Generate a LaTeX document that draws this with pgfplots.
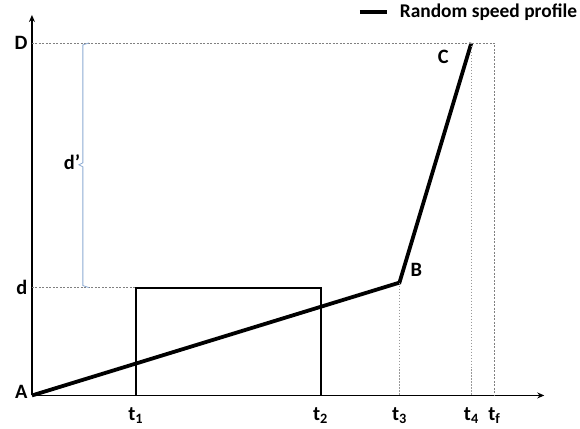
\documentclass[border=0pt]{standalone}
\usepackage{fontspec}
\setmainfont{Carlito}
\usepackage{pgfplots}
\pgfplotsset{compat=1.18}
\usetikzlibrary{arrows.meta}
\definecolor{brk}{RGB}{140,170,210}
\begin{document}
\begin{tikzpicture}
\begin{axis}[
  x=1bp, y=1bp,
  xmin=0, xmax=513, ymin=0, ymax=381,
  axis lines=left,
  axis line style={line width=1.6bp, -{Stealth[length=7bp,width=6bp]}},
  clip=false,
  xtick={104,289,368,440,463},
  xticklabels={t\textsubscript{1},t\textsubscript{2},t\textsubscript{3},t\textsubscript{4},t\textsubscript{f}},
  ytick={4,108,353},
  yticklabels={A,d,D},
  major tick length=0pt,
  tick label style={font=\fontsize{20.5}{22}\selectfont\bfseries},
  xticklabel style={yshift=-9bp},
  yticklabel style={xshift=-1bp},
  legend style={at={(axis cs:549,395)}, anchor=north east, draw=none, fill=none,
    font=\fontsize{19.5}{22}\selectfont\bfseries, inner sep=1bp},
  legend cell align=left,
  legend image code/.code={\draw[#1] (0bp,0bp) -- (27bp,0bp); \path (36bp,0bp);},
]
\addplot[black, line width=3.8bp] coordinates {(0,0) (368,113) (440,353)};
\addlegendentry{Random speed profile}
\addplot[black, line width=2bp, forget plot] coordinates {(104,0) (104,108) (289,108) (289,0)};
\addplot[gray, dash pattern=on 2bp off 1.5bp, line width=0.6bp, forget plot] coordinates {(0,353) (463,353) (463,0)};
\addplot[gray, dash pattern=on 2bp off 1.5bp, line width=0.6bp, forget plot] coordinates {(0,108) (104,108)};
\addplot[gray!80, dash pattern=on 1.5bp off 1.5bp, line width=0.9bp, forget plot] coordinates {(368,113) (368,0)};
\addplot[gray!80, dash pattern=on 1.5bp off 1.5bp, line width=0.9bp, forget plot] coordinates {(440,353) (440,0)};
\addplot[brk, line width=0.8bp, forget plot] coordinates {(57,353) (51,351) (51,233) (47,231) (51,229) (51,110) (57,108)};
\node[font=\fontsize{20.5}{22}\selectfont\bfseries] at (axis cs:385,126) {B};
\node[font=\fontsize{20.5}{22}\selectfont\bfseries] at (axis cs:412,339) {C};
\node[font=\fontsize{20.5}{22}\selectfont\bfseries] at (axis cs:40,234) {d’};
\coordinate (BL) at (axis cs:-32,-33);
\coordinate (TR) at (axis cs:548,396);
\end{axis}
\path[use as bounding box] (BL) rectangle (TR);
\end{tikzpicture}
\end{document}
